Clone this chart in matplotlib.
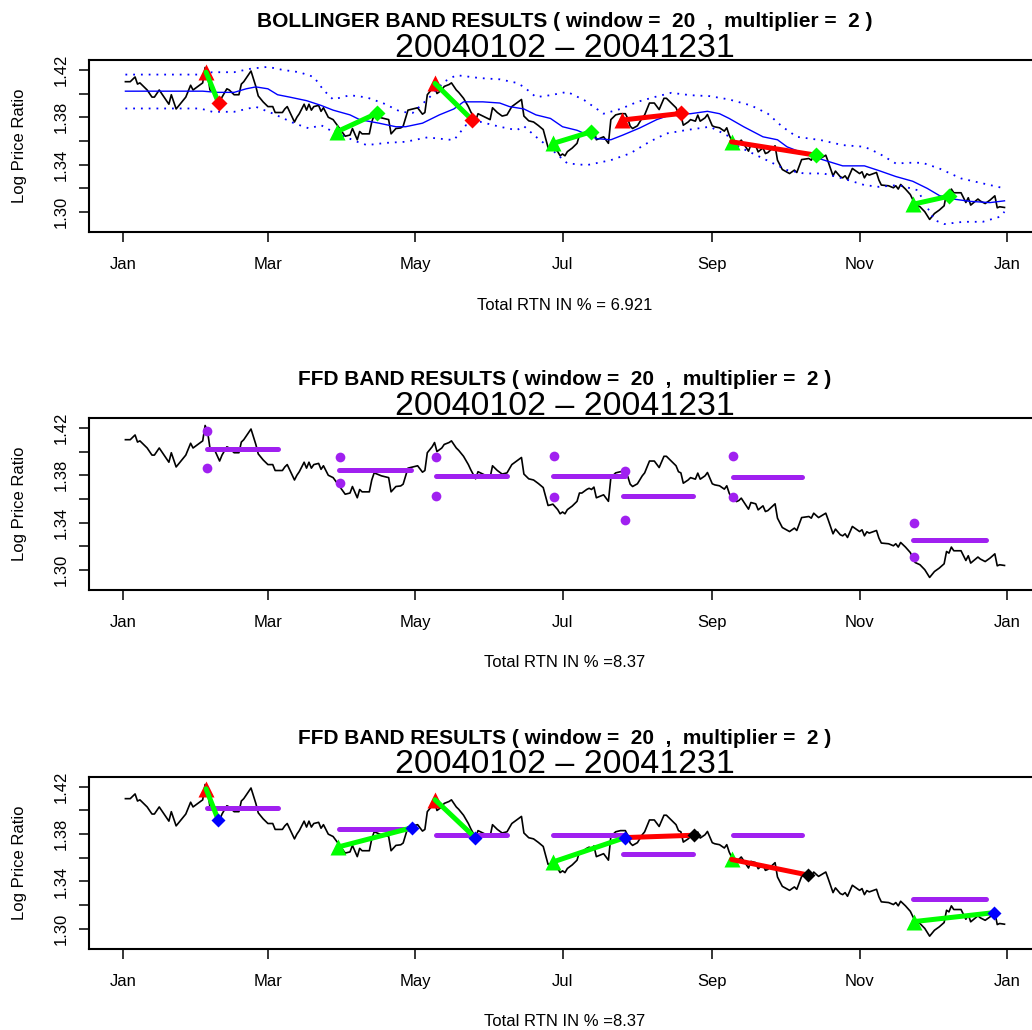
import numpy as np
import matplotlib
matplotlib.use("Agg")
import matplotlib.pyplot as plt
import matplotlib.dates as mdates
from datetime import datetime

plt.rcParams['font.family'] = ['Liberation Sans', 'DejaVu Sans']

# days after 2004-01-01 and log price ratio
price_day = [1, 3, 5, 6, 7, 8, 10, 12, 13, 15, 17, 19, 20, 22, 24, 26, 28, 29, 31, 33,
             34, 35, 36, 38, 40, 41, 43, 44, 46, 48, 49, 50, 53, 55, 56, 58, 60, 62, 63, 66,
             67, 68, 71, 72, 73, 75, 76, 77, 78, 79, 81, 82, 83, 85, 87, 89, 92, 94, 95, 97,
             98, 99, 102, 103, 104, 107, 110, 111, 113, 115, 116, 118, 120, 122, 124, 125, 126, 128, 129, 130,
             132, 133, 135, 136, 138, 139, 141, 143, 144, 146, 147, 149, 152, 153, 155, 157, 159, 161, 163, 165,
             166, 168, 170, 172, 174, 176, 177, 178, 180, 181, 182, 183, 184, 186, 188, 189, 190, 192, 193, 194,
             195, 196, 198, 199, 201, 202, 204, 206, 208, 209, 210, 211, 213, 215, 216, 218, 220, 222, 224, 225,
             227, 229, 230, 231, 232, 234, 235, 237, 238, 239, 241, 242, 244, 245, 247, 249, 250, 251, 252, 254,
             255, 256, 259, 260, 262, 263, 265, 266, 267, 270, 271, 273, 276, 278, 279, 281, 284, 285, 286, 288,
             291, 292, 294, 295, 297, 298, 299, 300, 302, 304, 305, 306, 307, 308, 309, 312, 313, 314, 317, 319,
             320, 321, 322, 324, 326, 328, 330, 332, 334, 336, 338, 340, 341, 342, 343, 344, 347, 348, 349, 350,
             351, 354, 355, 357, 359, 361, 362, 363, 365]
price_val = [1.410, 1.410, 1.414, 1.408, 1.409, 1.407, 1.403, 1.397, 1.397, 1.403, 1.397, 1.391, 1.399, 1.387, 1.392, 1.397, 1.407, 1.403, 1.406, 1.409,
             1.422, 1.417, 1.403, 1.401, 1.392, 1.397, 1.404, 1.403, 1.399, 1.399, 1.408, 1.410, 1.419, 1.406, 1.398, 1.393, 1.389, 1.389, 1.384, 1.384,
             1.387, 1.389, 1.376, 1.380, 1.383, 1.391, 1.386, 1.391, 1.386, 1.389, 1.390, 1.385, 1.388, 1.380, 1.378, 1.3725, 1.364, 1.365, 1.3705, 1.361,
             1.368, 1.366, 1.366, 1.376, 1.382, 1.3795, 1.378, 1.366, 1.3705, 1.371, 1.3725, 1.386, 1.387, 1.388, 1.3826, 1.384, 1.399, 1.404, 1.4076, 1.400,
             1.403, 1.406, 1.4076, 1.409, 1.403, 1.401, 1.396, 1.389, 1.3846, 1.377, 1.383, 1.381, 1.378, 1.388, 1.384, 1.381, 1.382, 1.389, 1.392, 1.395,
             1.381, 1.377, 1.376, 1.373, 1.3696, 1.3545, 1.355, 1.3556, 1.351, 1.3475, 1.349, 1.3475, 1.351, 1.354, 1.358, 1.365, 1.365, 1.368, 1.369, 1.368,
             1.370, 1.361, 1.3626, 1.3635, 1.358, 1.378, 1.382, 1.383, 1.383, 1.379, 1.3725, 1.3705, 1.3728, 1.3795, 1.382, 1.392, 1.392, 1.3865, 1.396, 1.396,
             1.392, 1.388, 1.383, 1.382, 1.3733, 1.376, 1.378, 1.3767, 1.3818, 1.3767, 1.3795, 1.3823, 1.3728, 1.3719, 1.3711, 1.3683, 1.3711, 1.3649, 1.3607, 1.3578,
             1.3587, 1.3607, 1.3514, 1.357, 1.3559, 1.3508, 1.3542, 1.3494, 1.3502, 1.3559, 1.3438, 1.3359, 1.3325, 1.3354, 1.3334, 1.3443, 1.3452, 1.3438, 1.348, 1.3443,
             1.348, 1.3424, 1.3306, 1.3346, 1.3298, 1.3289, 1.3306, 1.3275, 1.3368, 1.334, 1.3325, 1.334, 1.3289, 1.3323, 1.3312, 1.3334, 1.327, 1.3228, 1.3222, 1.3205,
             1.3222, 1.3194, 1.3233, 1.3194, 1.3148, 1.3064, 1.3045, 1.3003, 1.2938, 1.2988, 1.3017, 1.3053, 1.3157, 1.3143, 1.3194, 1.3163, 1.3163, 1.3121, 1.3081, 1.3121,
             1.3059, 1.311, 1.3093, 1.3072, 1.3101, 1.3137, 1.3036, 1.3045, 1.3039]

# bollinger moving average and bands
ma_day = [1, 33, 39, 46, 51, 55, 60, 64, 69, 76, 82, 87, 94, 98, 106, 113, 117, 124, 131, 137,
          141, 149, 156, 160, 166, 171, 177, 182, 188, 196, 202, 207, 214, 221, 228, 235, 242, 247, 251, 257,
          265, 271, 275, 282, 290, 298, 307, 313, 320, 327, 333, 338, 342, 351, 359, 365]
ma_val = [1.402, 1.402, 1.401, 1.401, 1.404, 1.4056, 1.404, 1.399, 1.397, 1.394, 1.390, 1.386, 1.382, 1.378, 1.375, 1.372, 1.372, 1.375, 1.382, 1.387,
          1.393, 1.393, 1.392, 1.389, 1.387, 1.382, 1.379, 1.372, 1.369, 1.362, 1.361, 1.365, 1.371, 1.378, 1.383, 1.383, 1.385, 1.383, 1.379, 1.372,
          1.3635, 1.361, 1.355, 1.3495, 1.344, 1.339, 1.339, 1.335, 1.330, 1.326, 1.320, 1.314, 1.3115, 1.309, 1.308, 1.3095]
up_day = [1, 32, 37, 46, 53, 60, 66, 73, 79, 83, 87, 94, 101, 108, 115, 120, 127, 133, 138, 148,
          156, 163, 166, 171, 177, 184, 191, 199, 206, 213, 220, 227, 235, 243, 251, 260, 267, 273, 279, 289,
          298, 307, 313, 320, 326, 331, 338, 347, 356, 365]
up_val = [1.416, 1.416, 1.418, 1.418, 1.421, 1.4225, 1.420, 1.418, 1.414, 1.403, 1.395, 1.3986, 1.3967, 1.3916, 1.3846, 1.3837, 1.397, 1.410, 1.4155, 1.413,
          1.412, 1.409, 1.4056, 1.397, 1.3986, 1.4014, 1.3944, 1.383, 1.387, 1.393, 1.397, 1.4006, 1.3986, 1.3978, 1.395, 1.390, 1.383, 1.372, 1.3635, 1.3607,
          1.3565, 1.3551, 1.3495, 1.341, 1.3416, 1.3416, 1.3368, 1.3284, 1.3242, 1.320]
lo_day = [1, 32, 37, 46, 55, 62, 71, 77, 82, 87, 97, 101, 109, 117, 126, 137, 142, 148, 156, 163,
          166, 171, 177, 184, 192, 202, 210, 218, 225, 233, 243, 250, 255, 265, 275, 282, 290, 298, 307, 313,
          321, 329, 336, 340, 348, 356, 363, 365]
lo_val = [1.3874, 1.3874, 1.3846, 1.3846, 1.3888, 1.3832, 1.3748, 1.3706, 1.3733, 1.3677, 1.3593, 1.3565, 1.3584, 1.3593, 1.363, 1.3607, 1.3733, 1.3761, 1.372, 1.3691,
          1.3725, 1.3635, 1.3537, 1.3411, 1.3396, 1.3438, 1.3495, 1.3593, 1.3663, 1.3691, 1.372, 1.3649, 1.3551, 1.3453, 1.3354, 1.3326, 1.3326, 1.3284, 1.3228, 1.3213,
          1.3228, 1.3185, 1.2933, 1.2899, 1.2918, 1.2918, 1.296, 1.3003]

# bollinger trades
bb_in_day = [34.4, 88.5, 129.2, 178.2, 206.5, 252, 327.3]
bb_in_val = [1.418, 1.3677, 1.4085, 1.358, 1.3776, 1.3593, 1.3067]
bb_out_day = [39.6, 105, 144.4, 193.8, 231, 287, 342.2]
bb_out_val = [1.392, 1.3832, 1.3781, 1.3677, 1.3832, 1.348, 1.3135]
bb_mark_col = ['red', 'green', 'red', 'green', 'red', 'green', 'green']
bb_line_col = ['green', 'green', 'green', 'green', 'red', 'red', 'green']

# ffd band signals
ffd_start = [34.7, 89.6, 129.6, 178.2, 207.2, 252.5, 327.2]
ffd_end = [64.3, 119.1, 159.1, 207.9, 236.1, 281.3, 357.3]
ffd_level = [1.402, 1.3846, 1.3793, 1.3793, 1.3629, 1.3789, 1.3256]
ffd_dot_day = [34.7, 89.9, 129.6, 178.6, 207.9, 252.7, 327.7]
ffd_dot_hi = [1.4175, 1.395, 1.3958, 1.3966, 1.384, 1.3966, 1.3401]
ffd_dot_lo = [1.3857, 1.3733, 1.3626, 1.3615, 1.3422, 1.3615, 1.311]

# ffd trades
ft_in_day = [34.4, 89.2, 129.2, 178.2, 207.9, 252, 327.5]
ft_in_val = [1.4183, 1.3692, 1.4091, 1.3566, 1.3771, 1.3586, 1.3061]
ft_out_day = [39.5, 119.8, 145.8, 207.9, 236.6, 283.8, 360.8]
ft_out_val = [1.3917, 1.3855, 1.3771, 1.3771, 1.3791, 1.3454, 1.3137]
ft_in_col = ['red', 'green', 'red', 'green', None, 'green', 'green']
ft_out_col = ['blue', 'blue', 'blue', 'blue', 'black', 'black', 'blue']
ft_line_col = ['green', 'green', 'green', 'green', 'red', 'red', 'green']

titles = ["BOLLINGER BAND RESULTS ( window =  20  ,  multiplier =  2 )",
          "FFD BAND RESULTS ( window =  20  ,  multiplier =  2 )",
          "FFD BAND RESULTS ( window =  20  ,  multiplier =  2 )"]
rtn_text = ["Total RTN IN % = 6.921", "Total RTN IN % =8.37", "Total RTN IN % =8.37"]

GREEN = '#00FF00'
PURPLE = '#A020F0'
cmap = {'green': GREEN, 'red': '#FF0000', 'blue': '#0000FF', 'black': 'black'}

base = mdates.date2num(datetime(2004, 1, 1))
def X(d):
    return base + np.asarray(d, dtype=float)

W, H = 1032, 1030
fig = plt.figure(figsize=(W / 100, H / 100), dpi=100)

# pixel boxes (left, top, right, bottom)
boxes = [(89, 60, 1040, 232), (89, 418, 1040, 590), (89, 777, 1040, 948.7)]
title_base = [(27, 57), (385, 415), (744, 773)]
rtn_base = [309.5, 667, 1026]
xc = 564.5 / W

axes = []
for i, (l, t, r, b) in enumerate(boxes):
    ax = fig.add_axes([l / W, 1 - b / H, (r - l) / W, (b - t) / H])
    ax.plot(X(price_day), price_val, color='black', lw=1.2, zorder=2)
    ax.set_xlim(base - 14.08, base + 379.7)
    ax.set_ylim(1.2832, 1.4283)
    ax.xaxis.set_major_locator(mdates.MonthLocator(bymonth=[1, 3, 5, 7, 9, 11]))
    ax.xaxis.set_major_formatter(mdates.DateFormatter('%b'))
    yt = np.round(np.arange(1.30, 1.4201, 0.02), 2)
    ax.set_yticks(yt)
    ax.set_yticklabels(['%.2f' % v if k % 2 == 0 else '' for k, v in enumerate(yt)],
                       rotation=90, va='center')
    ax.tick_params(axis='both', length=7.2, width=1.1, labelsize=12, direction='out')
    ax.tick_params(axis='x', pad=11)
    ax.tick_params(axis='y', pad=7.5)
    for s in ax.spines.values():
        s.set_linewidth(1.5)
    fig.text(20 / W, 1 - (t + b) / 2 / H, 'Log Price Ratio', rotation=90,
             ha='center', va='center', fontsize=12)
    fig.text(xc, 1 - title_base[i][0] / H, titles[i], ha='center', va='baseline',
             fontsize=15, fontweight='bold')
    fig.text(xc, 1 - title_base[i][1] / H, '20040102 \u2013 20041231', ha='center',
             va='baseline', fontsize=24.4)
    fig.text(xc, 1 - rtn_base[i] / H, rtn_text[i], ha='center', va='baseline', fontsize=12)
    axes.append(ax)

# panel 1: bollinger bands and trades
ax = axes[0]
ax.plot(X(ma_day), ma_val, color='#0000FF', lw=1.0, zorder=2)
ax.plot(X(up_day), up_val, color='#0000FF', lw=1.3, ls=(0, (1, 3.3)), zorder=2)
ax.plot(X(lo_day), lo_val, color='#0000FF', lw=1.3, ls=(0, (1, 3.3)), zorder=2)
for k in range(len(bb_in_day)):
    mc = cmap[bb_mark_col[k]]
    ax.plot(X(bb_in_day[k]), bb_in_val[k], marker='^', ms=12, color=mc, mec='none', zorder=3)
    ax.plot(X([bb_in_day[k], bb_out_day[k]]), [bb_in_val[k], bb_out_val[k]],
            color=cmap[bb_line_col[k]], lw=3.6, solid_capstyle='round', zorder=4)
    ax.plot(X(bb_out_day[k]), bb_out_val[k], marker='D', ms=8.5, color=mc, mec='none', zorder=5)

# panel 2: ffd bands
ax = axes[1]
for k in range(len(ffd_start)):
    ax.plot(X([ffd_start[k], ffd_end[k]]), [ffd_level[k]] * 2, color=PURPLE, lw=3.6,
            solid_capstyle='round', zorder=3)
ax.plot(X(ffd_dot_day), ffd_dot_hi, 'o', ms=7, color=PURPLE, mec='none', zorder=3)
ax.plot(X(ffd_dot_day), ffd_dot_lo, 'o', ms=7, color=PURPLE, mec='none', zorder=3)

# panel 3: ffd trades
ax = axes[2]
for k in range(len(ffd_start)):
    ax.plot(X([ffd_start[k], ffd_end[k]]), [ffd_level[k]] * 2, color=PURPLE, lw=3.6,
            solid_capstyle='round', zorder=3)
for k in range(len(ft_in_day)):
    if ft_in_col[k]:
        ax.plot(X(ft_in_day[k]), ft_in_val[k], marker='^', ms=12, color=cmap[ft_in_col[k]],
                mec='none', zorder=4)
    ax.plot(X([ft_in_day[k], ft_out_day[k]]), [ft_in_val[k], ft_out_val[k]],
            color=cmap[ft_line_col[k]], lw=3.6, solid_capstyle='round', zorder=5)
    ax.plot(X(ft_out_day[k]), ft_out_val[k], marker='D', ms=7, color=cmap[ft_out_col[k]],
            mec='none', zorder=6)

fig.savefig('out.png', dpi=100)
